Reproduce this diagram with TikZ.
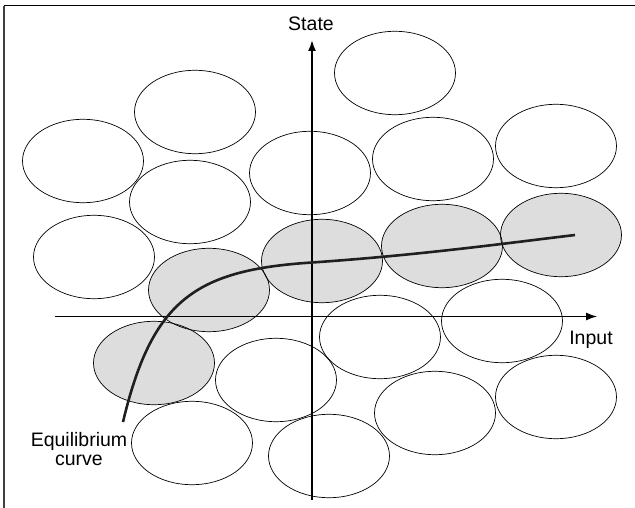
\documentclass[tikz,border=0pt]{standalone}
\usepackage{fontspec}
\setmainfont{Liberation Sans}
\usetikzlibrary{arrows.meta}

\begin{document}
\begin{tikzpicture}[x=1pt,y=-1pt,>={Latex[length=11pt,width=8pt]},
    font=\fontsize{19.5}{19.5}\selectfont]
  \useasboundingbox (0,0) rectangle (635,508);
  \draw[line width=1.2pt,black!75] (4,508)--(4,6);
  \draw[line width=1pt] (4,6)--(635,6);
  % shaded regions along the curve
  \foreach \cx/\cy in {322/261,442/246,561/235,209/290,154/363}
    \fill[gray!27] (\cx,\cy) ellipse (60.5pt and 41.7pt);
  % all regions
  \foreach \cx/\cy in {395/73,195/112,83/161,190/202,310/173,433/159,556/146,
      94/257,322/261,442/246,561/235,209/290,154/363,380/337,502/321,
      276/380,435/413,556/397,192/443,329/456}
    \draw[line width=0.7pt] (\cx,\cy) ellipse (60.5pt and 41.7pt);
  % axes
  \coordinate (ybot) at (312,500);
  \coordinate (ytop) at (312,40);
  \coordinate (xleft) at (55,316.5);
  \coordinate (xright) at (597,316.5);
  \draw[->,line width=1.2pt] (xleft)--(xright);
  \draw[->,line width=1.8pt] (ybot)--(ytop);
  \node (state) at (311,24) {State};
  \node (input) at (591,340) {Input};
  % equilibrium curve
  \coordinate (c0) at (123,422);
  \coordinate (c1) at (312,262.5);
  \coordinate (c2) at (575,235);
  \draw[line width=2.6pt,black!88] (c0) .. controls (152,300) and (195,270) .. (c1)
    .. controls (420,255) and (500,244) .. (c2);
  \node[align=center] (eqlabel) at (79,449) {Equilibrium\\curve};
\end{tikzpicture}
\end{document}
